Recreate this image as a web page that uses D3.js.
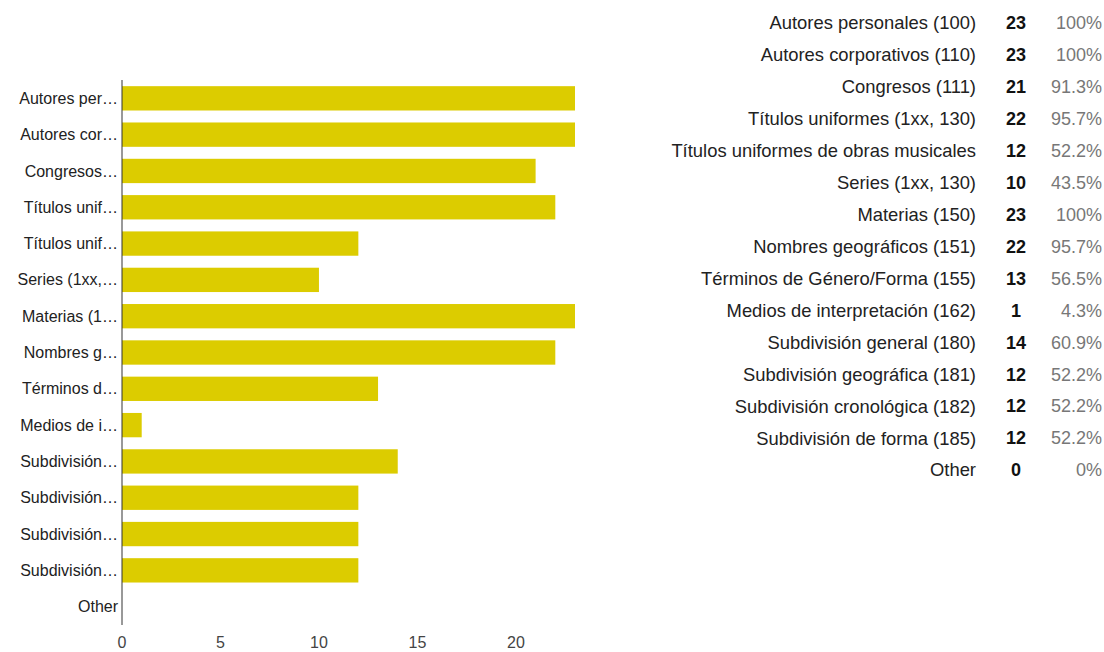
<!DOCTYPE html>
<html>
<head>
<meta charset="utf-8">
<script src="https://cdn.jsdelivr.net/npm/d3@7"></script>
<style>
  body { margin: 0; background: #fff; font-family: "Liberation Sans", Arial, sans-serif; }
  svg { display: block; }
</style>
</head>
<body>
<div id="main"></div>
<script>
var categories = ["Autores personales (100)", "Autores corporativos (110)", "Congresos (111)",
  "Títulos uniformes (1xx, 130)", "Títulos uniformes de obras musicales", "Series (1xx, 130)",
  "Materias (150)", "Nombres geográficos (151)", "Términos de Género/Forma (155)",
  "Medios de interpretación (162)", "Subdivisión general (180)", "Subdivisión geográfica (181)",
  "Subdivisión cronológica (182)", "Subdivisión de forma (185)", "Other"];
var counts = [23, 23, 21, 22, 12, 10, 23, 22, 13, 1, 14, 12, 12, 12, 0];
var percents = ["100%", "100%", "91.3%", "95.7%", "52.2%", "43.5%", "100%", "95.7%",
  "56.5%", "4.3%", "60.9%", "52.2%", "52.2%", "52.2%", "0%"];
var ticks = [0, 5, 10, 15, 20];

var w = 1104, h = 652;
var barColor = "#dccc00";

var svg = d3.select("#main").append("svg")
  .attr("width", w)
  .attr("height", h);

// bar chart
var x = d3.scaleLinear().domain([0, 23]).range([122, 575]);
var y = d3.scaleBand().domain(categories).range([80, 625]).paddingInner(0.33).paddingOuter(0.17);

svg.append("g").selectAll("rect")
  .data(categories)
  .enter()
  .append("rect")
  .attr("x", x(0))
  .attr("y", function (d) { return y(d); })
  .attr("width", function (d, i) { return x(counts[i]) - x(0); })
  .attr("height", y.bandwidth())
  .attr("fill", barColor);

svg.append("line")
  .attr("x1", x(0)).attr("x2", x(0))
  .attr("y1", 80).attr("y2", 625)
  .attr("stroke", "#333")
  .attr("stroke-width", 1);

// category labels, shortened with an ellipsis to fit
var maxW = 101;
svg.append("g").selectAll("text")
  .data(categories)
  .enter()
  .append("text")
  .attr("x", 118)
  .attr("y", function (d) { return y(d) + y.bandwidth() / 2; })
  .attr("dy", "0.35em")
  .attr("text-anchor", "end")
  .attr("font-size", 16)
  .attr("fill", "#222")
  .text(function (d) { return d; })
  .each(function (d) {
    var el = d3.select(this);
    if (this.getComputedTextLength() <= maxW) return;
    var s = d;
    while (s.length > 1) {
      s = s.slice(0, -1);
      el.text(s.replace(/[\s(]+$/, "") + "…");
      if (this.getComputedTextLength() <= maxW) break;
    }
  });

svg.append("g").selectAll("text")
  .data(ticks)
  .enter()
  .append("text")
  .attr("x", function (d) { return x(d); })
  .attr("y", 648)
  .attr("text-anchor", "middle")
  .attr("font-size", 16)
  .attr("fill", "#444")
  .text(function (d) { return d; });

// table on the right
var rowY = d3.scalePoint().domain(categories).range([23, 470]);

var rows = svg.append("g").selectAll("g")
  .data(categories)
  .enter()
  .append("g")
  .attr("transform", function (d) { return "translate(0," + rowY(d) + ")"; });

rows.append("text")
  .attr("x", 976)
  .attr("dy", "0.35em")
  .attr("text-anchor", "end")
  .attr("font-size", 18.4)
  .attr("fill", "#222")
  .text(function (d) { return d; });

rows.append("text")
  .attr("x", 1016)
  .attr("dy", "0.35em")
  .attr("text-anchor", "middle")
  .attr("font-size", 18)
  .attr("font-weight", "bold")
  .attr("fill", "#111")
  .text(function (d, i) { return counts[i]; });

rows.append("text")
  .attr("x", 1102)
  .attr("dy", "0.35em")
  .attr("text-anchor", "end")
  .attr("font-size", 18)
  .attr("fill", "#777")
  .text(function (d, i) { return percents[i]; });
</script>
</body>
</html>
